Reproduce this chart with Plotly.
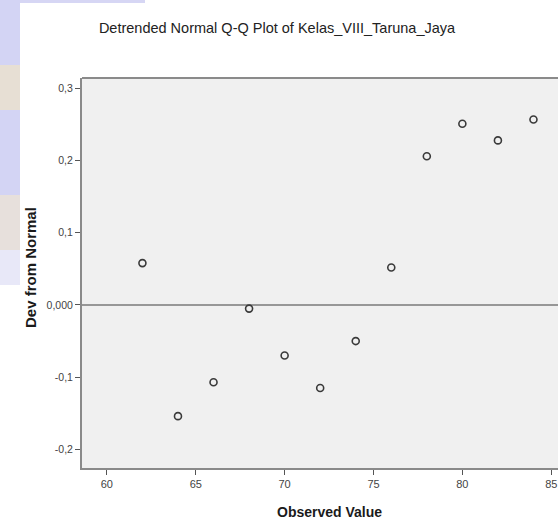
import plotly.graph_objects as go

# Data
observed_value = [62, 64, 66, 68, 70, 72, 74, 76, 78, 80, 82, 84]
dev_from_normal = [0.058, -0.154, -0.107, -0.005, -0.070, -0.115, -0.050, 0.052, 0.206, 0.251, 0.228, 0.257]

x_tick_vals = [60, 65, 70, 75, 80, 85]
x_tick_text = ["60", "65", "70", "75", "80", "85"]
y_tick_vals = [0.3, 0.2, 0.1, 0.0, -0.1, -0.2]
y_tick_text = ["0,3", "0,2", "0,1", "0,000", "-0,1", "-0,2"]

title_text = "Detrended Normal Q-Q Plot of Kelas_VIII_Taruna_Jaya"
x_title = "Observed Value"
y_title = "Dev from Normal"

FONT = "Liberation Sans, Arial, sans-serif"
W, H = 558, 525
L, R, T, B = 82, 0, 78, 57

fig = go.Figure()
fig.add_trace(go.Scatter(
    x=observed_value, y=dev_from_normal, mode="markers",
    marker=dict(symbol="circle-open", size=7, color="#3a3a3a", line=dict(width=1.6, color="#3a3a3a")),
    showlegend=False, hoverinfo="x+y",
))

shapes = [
    # reference line at zero
    dict(type="line", xref="paper", yref="y", x0=0, x1=1, y0=0, y1=0,
         line=dict(color="#7a7a7a", width=1.6), layer="below"),
    # top border of the plot frame
    dict(type="line", xref="paper", yref="paper", x0=0, x1=1, y0=1, y1=1,
         line=dict(color="#8a8a8a", width=2)),
]

# watermark fragments at the left edge
def px_rect(x0, y0, x1, y1, color, opacity=1.0):
    return dict(type="rect", xref="paper", yref="paper",
                x0=(x0 - L) / (W - L - R), x1=(x1 - L) / (W - L - R),
                y0=1 - (y0 - T) / (H - T - B), y1=1 - (y1 - T) / (H - T - B),
                fillcolor=color, line=dict(width=0), opacity=opacity, layer="below")

shapes += [
    px_rect(0, 0, 20, 250, "#d3d4f4", 1.0),
    px_rect(0, 250, 20, 285, "#e8e8f8", 1.0),
    px_rect(0, 65, 20, 110, "#efe4c6", 0.7),
    px_rect(0, 195, 20, 250, "#efe6d2", 0.7),
    px_rect(20, 0, 145, 3, "#d6d6f4", 1.0),
]

annotations = [
    dict(text=x_title, xref="paper", yref="paper",
         x=(329 - L) / (W - L - R), y=1 - (512 - T) / (H - T - B),
         xanchor="center", yanchor="middle", showarrow=False,
         font=dict(family=FONT, size=14, color="#1a1a1a", weight="bold")),
    dict(text=y_title, xref="paper", yref="paper",
         x=(30 - L) / (W - L - R), y=1 - (268 - T) / (H - T - B),
         xanchor="center", yanchor="middle", showarrow=False, textangle=-90,
         font=dict(family=FONT, size=15, color="#1a1a1a", weight="bold")),
]

fig.update_layout(
    width=W, height=H,
    margin=dict(l=L, r=R, t=T, b=B, pad=0),
    paper_bgcolor="white",
    plot_bgcolor="#f0f0f0",
    title=dict(text=title_text, x=277 / W, xanchor="center", y=1 - 28 / H, yanchor="middle",
               font=dict(family=FONT, size=14.5, color="#222222")),
    xaxis=dict(range=[58.6, 85.38], tickvals=x_tick_vals, ticktext=x_tick_text,
               showgrid=False, zeroline=False, showline=True, linecolor="#8a8a8a", linewidth=2,
               ticks="outside", ticklen=5, tickcolor="#555555", tickwidth=1,
               tickfont=dict(family=FONT, size=11, color="#444444")),
    yaxis=dict(range=[-0.2258, 0.3144], tickvals=y_tick_vals, ticktext=y_tick_text,
               showgrid=False, zeroline=False, showline=True, linecolor="#8a8a8a", linewidth=2,
               ticks="outside", ticklen=5, tickcolor="#555555", tickwidth=1,
               tickfont=dict(family=FONT, size=10.5, color="#444444")),
    shapes=shapes,
    annotations=annotations,
)

fig.write_html("out.html", config={"displayModeBar": False},
               post_script="document.body.style.margin='0';document.body.style.overflow='hidden';")
